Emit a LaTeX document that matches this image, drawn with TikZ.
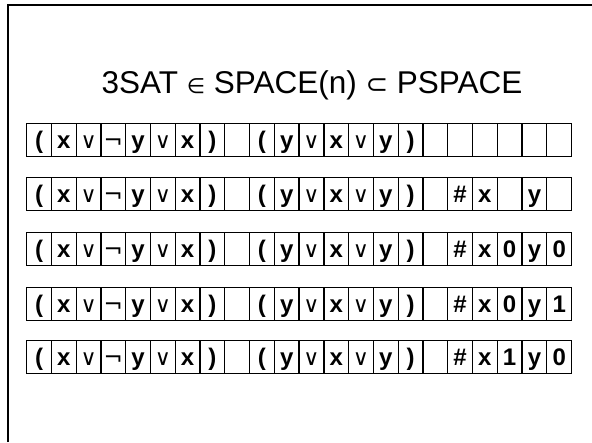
\documentclass[tikz,border=0pt]{standalone}
\usepackage{fontspec}
\setmainfont{Liberation Sans}
\newfontfamily\symfont{DejaVu Sans}
\newcommand\LP{(}
\newcommand\RP{)}
\newcommand\OR{{\symfont\mdseries\fontsize{22}{22}\selectfont ∨}}
\newcommand\NEG{{\symfont\mdseries\fontsize{23}{23}\selectfont ¬}}
\newcommand\HSH{\#}
\newcommand\tape[3]{%
  \foreach \t [count=\i] in {#3} {
    \node[cell] (r#1c\i) at ({26+(\i-1)*24.77},#2) {\t};
  }}
\begin{document}
\begin{tikzpicture}[x=1pt,y=-1pt,
  cell/.style={draw=black, line width=1.3pt, inner sep=0pt,
    minimum width=24.77pt, minimum height=33pt, anchor=north west,
    font=\bfseries\fontsize{24}{24}\selectfont, text height=19pt, text depth=3pt},
  frame/.style={line width=2.2pt, black},
  title/.style={anchor=base, inner sep=0pt, font=\fontsize{31.5}{31.5}\selectfont}]
\useasboundingbox (0,0) rectangle (592,442);
\fill[white] (0,0) rectangle (592,442);
\draw[frame] (8,442) -- (8,4.6) -- (592,4.6);
\node[title] (t) at (312,93) {3SAT {\symfont\fontsize{21}{21}\selectfont ∈} SPACE(n) {\symfont\fontsize{27}{27}\selectfont ⊂} PSPACE};
\tape{1}{123}{\LP,x,\OR,\NEG,y,\OR,x,\RP,{},\LP,y,\OR,x,\OR,y,\RP,{},{},{},{},{},{}}
\tape{2}{177}{\LP,x,\OR,\NEG,y,\OR,x,\RP,{},\LP,y,\OR,x,\OR,y,\RP,{},\HSH,x,{},y,{}}
\tape{3}{232}{\LP,x,\OR,\NEG,y,\OR,x,\RP,{},\LP,y,\OR,x,\OR,y,\RP,{},\HSH,x,0,y,0}
\tape{4}{287}{\LP,x,\OR,\NEG,y,\OR,x,\RP,{},\LP,y,\OR,x,\OR,y,\RP,{},\HSH,x,0,y,1}
\tape{5}{340}{\LP,x,\OR,\NEG,y,\OR,x,\RP,{},\LP,y,\OR,x,\OR,y,\RP,{},\HSH,x,1,y,0}
\end{tikzpicture}
\end{document}
